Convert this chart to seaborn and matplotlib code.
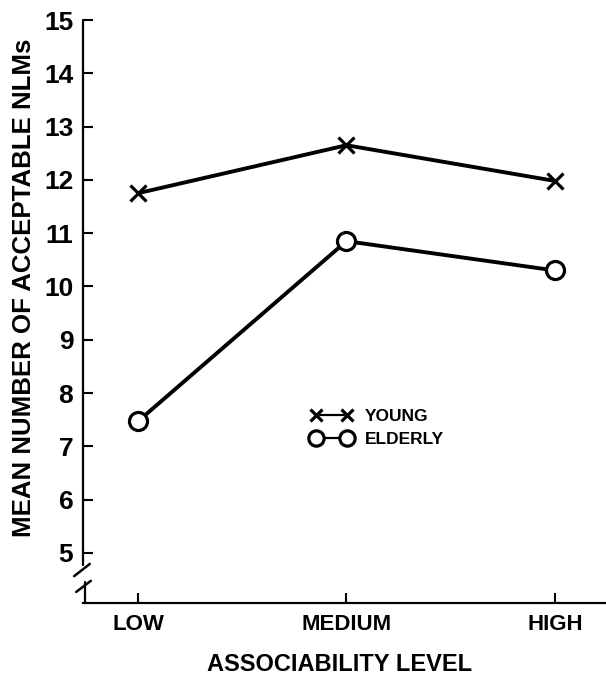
import pandas as pd
import numpy as np
import seaborn as sns
import matplotlib.pyplot as plt
from matplotlib.lines import Line2D

# data
levels = ['LOW', 'MEDIUM', 'HIGH']
young = [11.75, 12.65, 11.98]
elderly = [7.47, 10.85, 10.3]
groups = ['YOUNG', 'ELDERLY']
yticks = [5, 6, 7, 8, 9, 10, 11, 12, 13, 14, 15]

df = pd.DataFrame({
    'level': levels * 2,
    'mean': young + elderly,
    'group': ['YOUNG'] * 3 + ['ELDERLY'] * 3,
})

sns.set_style('ticks')
plt.rcParams['font.family'] = ['Liberation Sans Narrow', 'Liberation Sans', 'DejaVu Sans']
plt.rcParams['font.weight'] = 'bold'
for k in ['text.color', 'axes.labelcolor', 'xtick.color', 'ytick.color']:
    plt.rcParams[k] = 'black'

fig = plt.figure(figsize=(6.06, 6.8), dpi=100)
ax = fig.add_axes([83/606, 77/680, 523/606, 583/680])

# one call per group (seaborn won't mix 'x' and 'o' in a style mapping)
mk = {'YOUNG': ('x', 11), 'ELDERLY': ('o', 13)}
for g in groups:
    sub = df[df['group'] == g]
    sns.lineplot(data=sub, x='level', y='mean', color='black', marker=mk[g][0],
                 markersize=mk[g][1], markeredgewidth=2.3, markeredgecolor='black',
                 markerfacecolor='white', linewidth=2.8, ax=ax)

ax.set_xlim(-0.264, 2.245)
ax.set_ylim(4.06, 15)
ax.set_yticks(yticks)
ax.set_yticklabels([str(t) for t in yticks], fontsize=19, fontweight='bold')
ax.set_xticks(range(len(levels)))
ax.set_xticklabels(levels, fontsize=16, fontweight='bold')
ax.tick_params(axis='both', direction='in', length=7, width=1.5, color='black')
ax.tick_params(axis='y', pad=7)
ax.tick_params(axis='x', pad=8)

for s in ['top', 'right']:
    ax.spines[s].set_visible(False)
ax.spines['bottom'].set_linewidth(1.6)
ax.spines['bottom'].set_color('black')
ax.spines['left'].set_visible(False)

# left axis with a break near the bottom
tr = ax.transAxes
ax.add_line(Line2D([0, 0], [0.065, 1.0], transform=tr, color='black', lw=1.6, clip_on=False))
ax.add_line(Line2D([0.004, 0.004], [0.0, 0.036], transform=tr, color='black', lw=1.6, clip_on=False))
ax.add_line(Line2D([-0.017, 0.013], [0.046, 0.067], transform=tr, color='black', lw=1.8, clip_on=False))
ax.add_line(Line2D([-0.013, 0.015], [0.019, 0.038], transform=tr, color='black', lw=1.8, clip_on=False))

ax.set_ylabel('MEAN NUMBER OF ACCEPTABLE NLMs', fontsize=18.6, fontweight='bold')
ax.yaxis.set_label_coords(-0.09, 0.54)
ax.set_xlabel('ASSOCIABILITY LEVEL', fontsize=17, fontweight='bold')
ax.xaxis.set_label_coords(0.49, -0.085)

data_lines = [l for l in ax.lines if l.get_marker() in ('x', 'o')]
leg = ax.legend(data_lines, groups, numpoints=2, frameon=False,
                loc='upper left', bbox_to_anchor=(302/606, (680-400)/680),
                bbox_transform=fig.transFigure, borderpad=0, handlelength=2.4,
                handletextpad=0.7, labelspacing=0.45, prop={'size': 12.5, 'weight': 'bold'})
for h in leg.legend_handles:
    h.set_linewidth(1.6)
leg.legend_handles[0].set_markersize(9)
leg.legend_handles[1].set_markersize(11)

fig.savefig('out.png', dpi=100)
